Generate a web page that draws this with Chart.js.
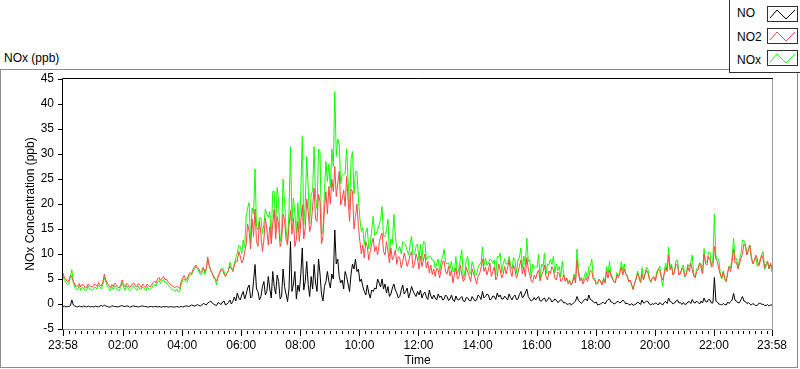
<!DOCTYPE html>
<html><head><meta charset="utf-8">
<script src="https://cdn.jsdelivr.net/npm/chart.js@4/dist/chart.umd.min.js"></script>
<style>
html,body{margin:0;padding:0;background:#fff;width:800px;height:369px;overflow:hidden;font-family:"Liberation Sans",Arial,sans-serif;}
#panel{position:absolute;left:0;top:69px;width:796px;height:297px;border:1px solid #8c8c8c;}
#title{position:absolute;left:4px;top:51px;font-size:12px;line-height:14px;color:#000;}
#legend{position:absolute;left:729px;top:-1px;width:80px;height:72px;border:1px solid #303030;background:#fff;z-index:3;}
.lg{position:absolute;left:7px;font-size:12px;line-height:14px;color:#000;}
.ic{position:absolute;left:37px;width:29px;height:14px;border:1px solid #303030;background:#fff;}
.ic svg{position:absolute;left:0;top:0;}
canvas{position:absolute;left:0;top:0;z-index:2;}
</style></head>
<body>
<div id="panel"></div>
<div id="title">NOx (ppb)</div>
<div id="legend"></div>
<canvas id="c" width="800" height="369"></canvas>
<script>
// ---- data: one sample every 3 minutes starting at 23:58 (one row = one hour) ----
const STEP_MIN = 3;
const seriesNames = ['NO', 'NO2', 'NOx'];
const seriesColors = ['#000000', '#ff4646', '#10ff00'];

const NO = [
 -0.5,-0.4,-0.6,-0.5,-0.5,-0.3,0.8,-0.2,-0.4,-0.5,-0.6,-0.4,-0.5,-0.6,-0.4,-0.5,-0.6,-0.4,-0.5,-0.6,
 -0.5,-0.6,-0.4,-0.5,-0.6,-0.4,-0.3,-0.5,-0.2,-0.4,-0.5,-0.6,-0.6,-0.4,-0.4,-0.5,-0.5,-0.6,-0.5,-0.4,
 -0.3,-0.5,-0.5,-0.4,-0.4,-0.6,-0.6,-0.4,-0.4,-0.5,-0.5,-0.6,-0.5,-0.4,-0.4,-0.5,-0.5,-0.6,-0.6,-0.5,
 -0.5,-0.6,-0.5,-0.5,-0.6,-0.5,-0.6,-0.6,-0.5,-0.6,-0.5,-0.6,-0.6,-0.5,-0.6,-0.6,-0.6,-0.5,-0.6,-0.6,
 -0.5,-0.6,-0.5,-0.4,-0.4,-0.5,-0.4,-0.2,-0.3,-0.4,-0.3,-0.1,-0.3,-0.4,-0.2,0.1,0.0,-0.2,0.2,0.4,
 0.6,0.2,0.0,-0.2,-0.3,0.3,0.1,-0.1,0.4,0.6,-0.2,0.0,0.3,0.8,0.0,0.5,1.4,0.6,2.2,1.2,
 0.8,1.8,2.5,1.0,2.0,3.2,3.8,1.2,1.5,4.5,7.9,3.0,2.5,0.8,1.5,3.5,4.5,1.8,2.5,5.5,
 3.0,1.2,6.5,3.5,2.0,5.8,4.5,1.0,1.5,7.0,3.5,2.0,0.5,3.0,12.5,2.5,4.0,6.5,1.0,3.8,
 2.5,6.0,11.2,2.8,4.5,8.5,3.9,1.5,5.5,3.0,7.9,4.2,2.5,9.0,6.0,2.0,0.6,3.5,4.5,6.5,
 4.5,3.2,6.0,5.0,14.8,8.0,9.0,5.5,4.2,4.8,3.0,6.5,5.5,4.0,2.5,6.0,8.0,7.0,9.0,6.5,
 7.0,4.5,5.0,3.5,2.5,1.8,3.8,2.2,1.2,2.8,2.5,3.2,3.0,5.0,4.2,3.4,5.0,3.0,4.0,2.2,
 3.5,1.5,2.0,3.2,4.0,2.8,2.2,1.2,1.5,2.8,3.8,2.0,2.5,3.2,1.2,2.2,3.5,2.6,2.0,1.5,
 2.5,1.8,2.8,1.2,2.0,2.4,1.4,0.9,2.8,1.6,1.0,1.8,1.2,0.8,2.0,1.3,1.6,0.8,1.0,1.8,
 1.5,0.7,1.0,1.8,0.8,0.5,1.6,0.9,0.8,1.2,1.5,0.6,0.5,1.3,1.2,0.7,0.6,1.5,1.0,0.6,
 0.8,1.8,1.5,0.9,2.5,1.2,1.5,2.0,1.8,0.8,1.0,1.6,1.5,0.9,2.2,1.4,1.8,1.0,1.0,1.6,
 1.2,0.8,2.0,1.3,0.8,1.5,1.8,0.9,1.0,1.9,2.5,1.2,1.6,2.2,3.0,1.5,1.0,0.6,0.8,1.3,
 0.8,1.2,1.5,0.6,0.6,1.0,1.2,0.5,0.8,1.3,1.0,0.4,0.6,1.0,0.8,0.3,0.5,0.9,0.7,0.2,
 0.3,0.0,-0.1,0.2,-0.2,0.0,0.3,0.6,1.5,0.7,0.4,0.1,0.5,0.9,1.0,0.6,1.8,0.9,0.8,0.4,
 0.2,0.4,-0.2,-0.1,0.0,0.3,0.3,0.0,0.6,0.9,1.0,0.4,0.3,0.0,0.1,0.5,0.5,0.2,0.4,0.8,
 0.5,0.0,0.2,-0.1,-0.2,0.1,-0.3,-0.1,0.0,0.4,0.2,-0.1,0.8,0.2,0.3,0.6,0.5,0.0,-0.2,0.1,
 -0.1,0.2,0.1,-0.2,0.3,0.0,-0.2,0.3,0.5,0.1,1.2,0.5,0.4,0.0,0.2,0.6,0.8,0.2,0.3,-0.1,
 0.3,-0.1,0.0,0.4,0.5,0.1,0.9,0.3,0.2,0.6,0.3,0.0,0.6,0.2,1.2,0.5,0.4,0.9,0.8,0.2,
 0.2,5.3,0.6,0.4,0.0,-0.1,-0.2,0.1,-0.1,-0.2,0.4,0.1,0.5,0.8,2.1,0.7,0.6,0.2,0.3,0.9,
 1.5,0.6,0.5,0.1,0.3,0.0,-0.2,0.1,-0.1,-0.3,-0.3,0.1,0.2,-0.1,0.0,-0.3,-0.3,-0.1,-0.4,-0.2,-0.2
];
const NO2 = [
 6.2,5.2,5.0,4.4,4.6,5.8,5.4,4.5,4.0,3.4,3.6,4.1,3.4,3.9,3.8,3.2,3.3,4.0,3.6,3.5,
 3.4,3.9,3.9,3.5,4.3,3.8,3.6,4.4,6.0,4.8,4.2,3.7,3.3,3.9,3.5,4.2,3.9,3.4,3.2,3.7,
 4.8,3.9,3.4,4.1,3.9,3.3,3.6,4.0,4.2,3.6,3.4,4.1,3.7,3.3,4.0,3.6,3.3,4.0,3.6,3.4,
 3.8,4.3,4.6,4.2,5.0,5.3,4.7,5.2,5.5,4.9,5.0,4.5,4.2,3.8,3.6,3.4,3.3,3.6,3.3,3.1,
 4.5,5.2,5.7,4.9,5.0,5.8,6.3,6.0,6.9,7.4,7.8,7.2,7.0,6.3,6.7,7.3,6.4,7.1,9.4,7.5,
 6.8,6.1,5.6,5.1,4.6,5.4,6.3,7.0,6.8,6.0,5.6,6.2,6.7,7.6,7.2,6.5,7.7,8.6,8.5,10.5,
 9.6,8.2,8.8,10.4,11.9,16.0,14.5,11.0,17.0,13.5,19.0,12.5,11.5,16.5,13.9,10.5,12.8,17.2,15.0,11.8,
 15.5,12.0,16.0,19.0,13.0,17.5,15.8,11.5,12.5,18.0,16.8,13.0,11.8,15.5,18.7,14.0,17.2,11.5,13.0,16.5,
 12.5,16.5,19.9,13.0,15.2,21.0,18.5,14.5,15.8,19.5,23.2,17.0,16.5,22.0,20.5,12.0,13.5,19.0,22.5,18.0,
 23.5,20.0,25.0,22.5,27.5,21.5,24.0,26.5,19.8,21.0,22.8,19.5,25.5,21.0,16.5,23.0,22.5,15.0,17.5,20.0,
 15.5,12.5,10.0,11.8,9.2,12.5,11.5,8.8,10.5,12.0,13.2,10.5,11.5,9.8,12.0,13.5,14.2,10.5,9.8,12.5,
 10.5,8.2,11.2,8.8,9.5,10.8,7.9,9.5,9.2,7.2,8.5,10.2,9.0,7.5,8.5,9.8,10.5,7.2,8.0,10.0,
 9.0,7.0,9.6,7.5,8.8,10.0,7.2,8.5,6.2,7.8,5.9,7.0,5.5,7.2,6.8,5.2,7.0,8.5,8.5,6.5,
 6.0,7.5,5.6,6.8,4.2,6.0,7.2,5.0,5.2,7.8,5.8,4.5,5.0,7.4,6.3,5.5,4.5,7.0,6.0,5.2,
 4.0,5.5,6.0,7.2,9.0,6.5,7.4,5.8,6.8,8.2,5.5,6.5,7.4,4.8,5.5,8.0,6.8,5.2,6.0,7.5,
 6.0,7.2,8.8,6.5,5.5,7.8,6.8,5.2,6.2,7.5,8.8,6.0,7.5,5.5,9.3,7.0,5.8,4.6,4.3,5.8,
 5.0,6.2,6.8,4.6,5.8,6.5,7.8,5.5,4.8,6.6,6.1,7.5,6.8,5.2,4.8,6.4,6.1,4.5,4.8,5.8,
 4.5,5.2,4.0,4.6,3.8,4.4,5.5,4.2,8.8,6.0,4.6,5.2,4.0,4.7,5.3,4.5,5.5,6.8,6.5,5.0,
 4.8,3.9,4.2,5.0,4.4,3.8,5.0,4.2,6.5,5.2,6.8,5.6,5.0,4.4,4.3,5.8,5.2,6.2,7.4,5.8,
 7.0,6.0,5.5,4.5,4.8,3.8,3.0,4.2,5.0,6.2,5.3,4.3,6.0,4.8,5.8,6.8,6.2,5.0,4.5,5.2,
 5.5,4.6,5.8,7.0,6.8,5.4,4.8,6.0,7.3,6.5,9.8,6.8,7.6,5.8,6.4,8.0,7.8,5.8,6.0,7.2,
 6.8,5.5,5.9,7.5,6.5,8.2,6.8,5.6,5.2,6.5,6.8,8.2,7.2,6.0,10.0,8.0,7.8,9.5,9.0,7.4,
 7.5,11.5,9.0,8.5,7.0,6.0,5.3,6.5,5.1,4.6,6.2,7.5,6.5,8.5,11.0,8.2,8.3,7.0,8.0,9.2,
 10.0,12.0,11.5,9.8,10.8,11.8,9.5,8.0,8.5,9.8,9.0,7.6,8.5,9.8,9.0,7.2,8.0,8.6,7.0,8.2,7.2
];
const NOX = [
 5.6,4.8,4.3,3.9,4.0,5.5,6.9,4.3,3.4,2.9,2.9,3.7,2.7,3.3,3.2,2.7,2.7,3.6,3.0,2.9,
 2.8,3.3,3.3,3.0,3.8,3.4,3.0,3.9,5.4,4.4,3.6,3.1,2.6,3.5,2.9,3.7,3.3,2.8,2.6,3.3,
 4.2,3.4,2.7,3.7,3.2,2.7,2.9,3.6,3.6,3.1,2.7,3.5,3.0,2.9,3.4,3.1,2.6,3.4,3.0,2.9,
 3.2,3.7,4.0,3.6,4.4,4.7,4.1,4.6,4.9,4.3,4.4,3.9,3.5,3.2,2.8,2.8,2.5,3.0,2.4,2.5,
 3.8,4.6,5.0,4.5,4.4,5.3,5.8,5.8,6.5,7.0,7.5,7.1,6.5,5.9,6.0,7.4,5.9,6.9,8.8,7.9,
 6.6,6.3,5.2,4.9,3.8,5.7,6.0,6.9,7.2,6.6,5.4,6.2,6.6,8.4,7.0,7.0,8.0,9.2,10.2,11.7,
 11.5,10.0,12.8,11.4,17.5,19.2,20.3,12.2,19.2,18.0,27.0,15.5,14.8,17.3,17.2,14.0,16.0,19.0,18.0,17.3,
 18.5,13.2,22.5,22.5,15.0,23.3,20.3,12.5,14.0,25.0,20.3,15.0,12.3,18.5,31.5,16.5,21.2,18.0,14.0,20.3,
 15.0,22.5,33.5,15.8,20.0,29.5,23.3,16.0,22.0,22.5,31.5,21.2,19.0,31.0,30.5,14.0,14.5,22.5,28.5,24.5,
 28.0,23.2,31.0,27.5,42.5,29.5,33.0,32.0,24.0,25.8,26.0,26.0,31.0,25.0,19.0,29.0,30.5,22.0,26.5,26.5,
 21.0,17.0,14.5,15.3,11.8,14.3,15.2,11.0,12.0,14.8,17.5,13.7,14.0,14.8,15.8,16.9,19.5,13.5,13.5,14.7,
 17.0,9.7,13.0,12.0,17.9,13.6,11.0,10.7,11.5,10.0,12.5,12.2,11.8,10.7,9.8,12.0,13.6,9.8,10.0,11.5,
 12.0,8.8,12.0,8.7,12.5,12.4,8.8,9.4,9.5,9.4,8.8,8.8,7.2,8.0,9.0,6.5,8.6,9.3,11.0,8.3,
 8.0,8.2,7.0,8.6,6.5,6.5,9.5,5.9,7.0,9.0,10.8,5.1,6.2,8.7,9.5,6.2,6.0,8.5,7.5,5.8,
 5.8,7.3,8.0,8.1,11.4,7.7,9.2,7.8,8.0,9.0,8.8,8.1,8.8,5.7,9.5,9.4,10.2,6.2,8.0,9.1,
 8.0,8.0,9.5,7.8,7.0,9.3,8.7,6.1,8.7,9.4,11.2,7.2,9.6,7.7,13.2,8.5,8.9,5.2,8.0,7.1,
 7.5,7.4,10.0,5.2,8.0,7.5,10.2,6.0,8.0,7.9,9.0,7.9,9.5,6.2,8.0,6.7,7.5,5.4,8.6,6.0,
 5.0,5.2,4.5,4.8,3.8,4.4,6.0,4.8,11.0,6.7,5.0,5.3,4.5,5.6,6.5,5.1,7.5,7.7,9.0,5.4,
 5.0,4.3,4.0,4.9,4.6,4.1,5.3,4.2,7.5,6.1,8.5,6.0,5.3,4.4,4.4,6.3,5.6,6.4,8.5,6.6,
 8.0,6.0,5.8,4.4,4.6,3.9,2.8,4.1,5.0,6.6,5.5,4.2,7.3,5.0,6.0,7.4,7.0,5.0,4.3,5.3,
 5.2,4.8,6.5,6.8,7.6,5.4,3.5,6.3,8.2,6.6,11.4,7.3,8.0,5.8,6.6,8.6,8.8,6.0,6.3,7.1,
 7.8,5.4,6.2,7.9,7.5,8.3,9.8,5.9,5.5,7.1,7.3,8.2,8.0,6.2,11.1,8.5,8.4,10.4,10.3,7.6,
 8.8,18.0,9.6,8.9,9.0,5.9,5.0,6.6,4.8,4.4,6.5,7.6,7.2,9.3,13.1,8.9,9.2,7.2,9.0,10.1,
 12.8,12.6,12.0,9.9,11.0,11.8,9.3,8.1,8.6,9.5,7.6,7.7,9.0,9.7,10.5,6.9,7.6,8.5,7.1,8.0,6.4
];

// axis ticks
const xTickMinutes = [0,122,242,362,482,602,722,842,962,1082,1202,1322,1440];
const xTickLabels = ['23:58','02:00','04:00','06:00','08:00','10:00','12:00','14:00','16:00','18:00','20:00','22:00','23:58'];
const yMin = -5, yMax = 45, yStep = 5;

const F = '"Liberation Sans", Arial, sans-serif';

// legend (HTML)
const lg = document.getElementById('legend');
seriesNames.forEach((n, i) => {
  const t = document.createElement('div');
  t.className = 'lg'; t.style.top = (6 + i * 23.5) + 'px'; t.textContent = n;
  lg.appendChild(t);
  const b = document.createElement('div');
  b.className = 'ic'; b.style.top = (6 + i * 22) + 'px';
  b.innerHTML = '<svg width="29" height="14"><polyline points="2,11 9,3 18,12 27,3" fill="none" stroke="' + seriesColors[i] + '" stroke-width="1"/></svg>';
  lg.appendChild(b);
});

const toXY = arr => arr.map((v, i) => ({x: i * STEP_MIN, y: v}));

const framePlugin = {
  id: 'frame',
  afterDraw(chart) {
    const {ctx, chartArea: a, scales: {x}} = chart;
    ctx.save();
    ctx.lineWidth = 1;
    ctx.strokeStyle = '#9a9a9a';
    ctx.beginPath();
    ctx.moveTo(a.left - 1, a.bottom + 0.5);
    ctx.lineTo(a.right + 0.5, a.bottom + 0.5);
    ctx.lineTo(a.right + 0.5, a.top - 1);
    ctx.stroke();
    ctx.strokeStyle = '#000';
    ctx.beginPath();
    ctx.moveTo(a.left - 0.5, a.bottom + 1);
    ctx.lineTo(a.left - 0.5, a.top - 0.5);
    ctx.lineTo(a.right + 1, a.top - 0.5);
    ctx.stroke();
    // x tick marks: majors and 10 subdivisions per major interval
    ctx.beginPath();
    for (let k = 0; k < xTickMinutes.length; k++) {
      const m = xTickMinutes[k];
      const px = Math.round(x.getPixelForValue(m)) + 0.5;
      ctx.moveTo(px, a.bottom + 1); ctx.lineTo(px, a.bottom + 7);
      if (k < xTickMinutes.length - 1) {
        const next = xTickMinutes[k + 1];
        const d = (k === 0) ? (next - m) / 10 : 12;
        for (let j = 1; j < 10; j++) {
          const v = m + j * d;
          if (v >= next) break;
          const p = Math.round(x.getPixelForValue(v)) + 0.5;
          ctx.moveTo(p, a.bottom + 2); ctx.lineTo(p, a.bottom + 5);
        }
      }
    }
    ctx.stroke();
    ctx.restore();
  }
};

new Chart(document.getElementById('c'), {
  type: 'line',
  data: {
    datasets: [
      {label: seriesNames[0], data: toXY(NO), borderColor: seriesColors[0]},
      {label: seriesNames[1], data: toXY(NO2), borderColor: seriesColors[1]},
      {label: seriesNames[2], data: toXY(NOX), borderColor: seriesColors[2]}
    ]
  },
  options: {
    responsive: false,
    animation: false,
    devicePixelRatio: 1,
    layout: {padding: {left: 0, top: 79, right: 28, bottom: 0}},
    elements: {line: {borderWidth: 1, tension: 0}, point: {radius: 0}},
    plugins: {legend: {display: false}, tooltip: {enabled: false}},
    scales: {
      x: {
        type: 'linear', min: 0, max: 1440,
        afterFit(s) { s.height = 40; },
        afterBuildTicks(s) { s.ticks = xTickMinutes.map(v => ({value: v})); },
        ticks: {autoSkip: false, maxRotation: 0, color: '#000', font: {family: F, size: 12}, padding: 3,
                callback: (v, i) => xTickLabels[i]},
        grid: {drawOnChartArea: false, drawTicks: true, tickLength: 6, color: 'rgba(0,0,0,0)'},
        border: {display: false},
        title: {display: true, text: 'Time', color: '#000', font: {family: F, size: 12}, padding: {top: 0, bottom: 1}}
      },
      y: {
        type: 'linear', min: yMin, max: yMax,
        afterFit(s) { s.width = 63; },
        ticks: {stepSize: yStep, color: '#000', font: {family: F, size: 12}, padding: 4},
        grid: {drawOnChartArea: false, drawTicks: true, tickLength: 5, color: '#000'},
        border: {display: false},
        title: {display: true, text: 'NOx Concentration (ppb)', color: '#000', font: {family: F, size: 12}, padding: {top: 23, bottom: 0}}
      }
    }
  },
  plugins: [framePlugin]
});
</script>
</body></html>
